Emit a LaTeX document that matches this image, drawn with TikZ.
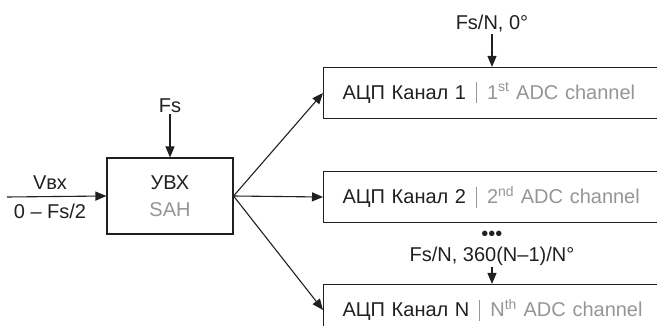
\documentclass[tikz,border=0pt]{standalone}
\usepackage{fontspec}
\setmainfont{Liberation Sans}
\usepackage{tikz}
\usetikzlibrary{arrows.meta,calc}
\definecolor{inkdark}{HTML}{231F20}
\definecolor{inkgray}{HTML}{939598}
\newcommand{\chantext}[2]{#1\hspace{10pt}{\color{inkgray}\rule[-4pt]{0.9pt}{21pt}\hspace{10pt}#2 ADC channel}}

\begin{document}
\begin{tikzpicture}[x=1pt,y=-1pt,font=\fontsize{20}{27}\selectfont]
  \tikzset{blockbox/.style={draw=inkdark,line width=1.1pt,minimum width=126pt,minimum height=76pt,align=center,text=inkdark,inner sep=0pt}}
  \tikzset{chanbox/.style={draw=inkdark,line width=1.1pt,minimum height=51pt,text width=330pt,inner xsep=19pt,inner ysep=0pt,align=left,anchor=west,text=inkdark}}
  \tikzset{sigline/.style={draw=inkdark,line width=1.1pt,-{Triangle[length=11pt,width=9pt]}}}
  \tikzset{siglabel/.style={text=inkdark,inner sep=1pt}}

  \useasboundingbox (0,0) rectangle (657,326);
  \clip (0,0) rectangle (657,326);

  \node[blockbox] (sah) at (170,196) {УВХ\\\textcolor{inkgray}{SAH}};
  \coordinate (vin) at (7,197);
  \node[siglabel] (vlab) at (50,183) {Vвх};
  \node[siglabel] (rangelab) at (50,211) {0 – Fs/2};
  \node[siglabel] (fslab) at (170,106) {Fs};

  \node[chanbox] (ch1) at (323,93) {\chantext{АЦП Канал 1}{1\textsuperscript{st}}};
  \node[chanbox] (ch2) at (323,197) {\chantext{АЦП Канал 2}{2\textsuperscript{nd}}};
  \node[chanbox] (chN) at (323,310) {\chantext{АЦП Канал N}{N\textsuperscript{th}}};

  \node[siglabel] (fs0lab) at (492,24) {Fs/N, 0°};
  \node[text=inkdark,inner sep=0pt] (dots) at (492,236) {•••};
  \node[siglabel] (fsNlab) at (492,256) {Fs/N, 360(N–1)/N°};

  \draw[sigline] (vin) -- (sah.west);
  \draw[sigline] (fslab.south) -- (sah.north);
  \draw[sigline] (sah.east) -- (ch1.west);
  \draw[sigline] (sah.east) -- (ch2.west);
  \draw[sigline] (sah.east) -- (chN.west);
  \draw[sigline] (fs0lab.south) -- (fs0lab.south |- ch1.north);
  \draw[sigline] (fsNlab.south) -- (fsNlab.south |- chN.north);
\end{tikzpicture}
\end{document}
